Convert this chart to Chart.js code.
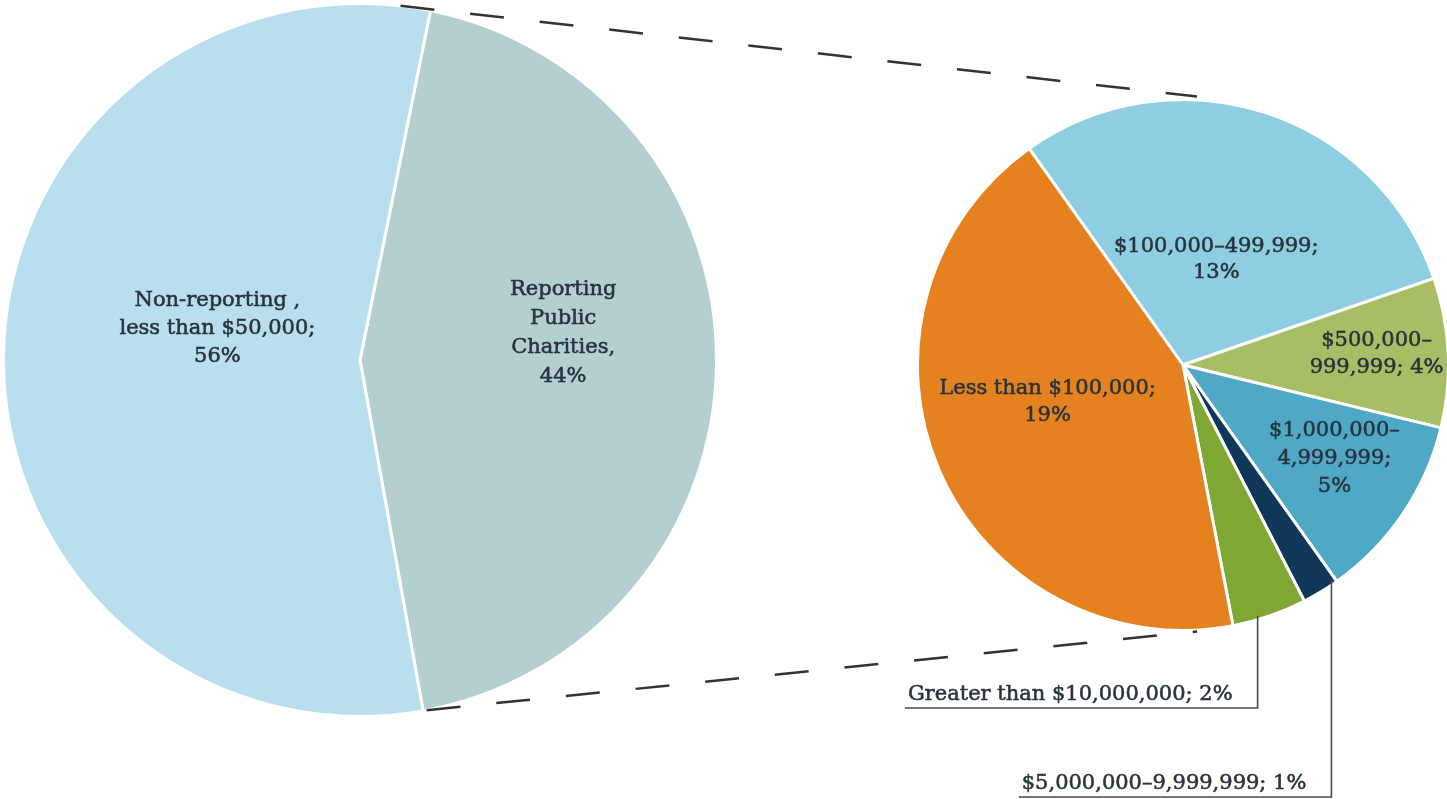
<!DOCTYPE html>
<html><head><meta charset="utf-8">
<script src="https://cdn.jsdelivr.net/npm/chart.js@4.4.0/dist/chart.umd.min.js"></script>
<style>
html,body{margin:0;padding:0;background:#fff;width:1447px;height:799px;overflow:hidden;}
#left{position:absolute;left:2px;top:2px;}
#right{position:absolute;left:916px;top:98px;}
#overlay{position:absolute;left:0;top:0;pointer-events:none;}
</style></head><body>
<canvas id="left" width="716" height="716" style="width:716px;height:716px"></canvas>
<canvas id="right" width="534" height="534" style="width:534px;height:534px"></canvas>
<canvas id="overlay" width="1447" height="799" style="width:1447px;height:799px"></canvas>
<script>
// ---- data ----
const overviewCategories = ['Reporting Public Charities', 'Non-reporting, less than $50,000'];
const overviewValues = [44, 56];
const overviewLabelLines = [['Reporting', 'Public', 'Charities,', '44%'], ['Non-reporting ,', 'less than $50,000;', '56%']];

const breakdownCategories = ['$100,000–499,999', '$500,000–999,999', '$1,000,000–4,999,999', '$5,000,000–9,999,999', 'Greater than $10,000,000', 'Less than $100,000'];
const breakdownValues = [13, 4, 5, 1, 2, 19];
const breakdownLabelLines = [['$100,000–499,999;', '13%'], ['$500,000–', '999,999; 4%'], ['$1,000,000–', '4,999,999;', '5%'], null, null, ['Less than $100,000;', '19%']];
const calloutLabels = [null, null, null, '$5,000,000–9,999,999; 1%', 'Greater than $10,000,000; 2%', null];

// ---- style ----
const FONT = '21px "DejaVu Serif", "Liberation Serif", serif';
const TEXT = '#27343d';
const overviewColors = ['#b3cfd0', '#b9dfef'];
const breakdownColors = ['#8ecde2', '#a8be64', '#4fa8c5', '#0f3858', '#7ea833', '#e5811f'];

function boldText(ctx, s, x, y) {
  ctx.fillText(s, x, y);
  ctx.strokeText(s, x, y);
}

function makeLabelPlugin(cfg) {
  return {
    id: 'sliceLabels',
    afterDatasetsDraw(chart) {
      const ctx = chart.ctx;
      const meta = chart.getDatasetMeta(0);
      ctx.save();
      ctx.font = FONT; ctx.fillStyle = TEXT; ctx.strokeStyle = TEXT; ctx.lineWidth = 0.55;
      ctx.textAlign = 'center'; ctx.textBaseline = 'middle';
      meta.data.forEach((arc, i) => {
        const lines = cfg.lines[i];
        if (!lines) return;
        const mid = (arc.startAngle + arc.endAngle) / 2 + (cfg.angleShift[i] || 0) * Math.PI / 180;
        const d = arc.outerRadius * cfg.radial[i];
        const cx = arc.x + Math.cos(mid) * d;
        const cy = arc.y + Math.sin(mid) * d + (cfg.dy[i] || 0);
        const lh = cfg.lineHeight[i];
        lines.forEach((ln, k) => boldText(ctx, ln, cx, cy + (k - (lines.length - 1) / 2) * lh));
      });
      ctx.restore();
    }
  };
}

const baseOpts = {
  responsive: false, animation: false,
  layout: { padding: 0 },
  plugins: { legend: { display: false }, tooltip: { enabled: false } },
  events: []
};

const leftChart = new Chart(document.getElementById('left'), {
  type: 'pie',
  data: { labels: overviewCategories, datasets: [{ data: overviewValues, backgroundColor: overviewColors, borderColor: '#ffffff', borderWidth: 3, hoverOffset: 0 }] },
  options: Object.assign({}, baseOpts, { rotation: 11.4 }),
  plugins: [makeLabelPlugin({ lines: overviewLabelLines, radial: [0.57, 0.40], dy: [-29, -30], angleShift: [0, 0], lineHeight: [29, 28] })]
});

const rightChart = new Chart(document.getElementById('right'), {
  type: 'pie',
  data: { labels: breakdownCategories, datasets: [{ data: breakdownValues, backgroundColor: breakdownColors, borderColor: '#ffffff', borderWidth: 3, hoverOffset: 0 }] },
  options: Object.assign({}, baseOpts, { rotation: -35.4 }),
  plugins: [makeLabelPlugin({ lines: breakdownLabelLines, radial: [0.41, 0.73, 0.67, 0, 0, 0.54], dy: [-2, -2, 0, 0, 0, -10], angleShift: [0, 0, -2.5, 0, 0, 4], lineHeight: [26, 27, 28, 0, 0, 27] })]
});

// ---- overlay: connector dashes and callouts ----
function drawOverlay() {
  const ov = document.getElementById('overlay');
  const ctx = ov.getContext('2d');
  ctx.clearRect(0, 0, ov.width, ov.height);
  const lRect = { x: 2, y: 2 }, rRect = { x: 916, y: 98 };
  const lArc = leftChart.getDatasetMeta(0).data[0];
  const rArcs = rightChart.getDatasetMeta(0).data;
  const lx = lRect.x + lArc.x, ly = lRect.y + lArc.y, lr = lArc.outerRadius;
  const rx = rRect.x + rArcs[0].x, ry = rRect.y + rArcs[0].y, rr = rArcs[0].outerRadius;

  const topStart = [lx + Math.cos(lArc.startAngle - 0.085) * lr, ly + Math.sin(lArc.startAngle - 0.085) * lr];
  const botStart = [lx + Math.cos(lArc.endAngle - 0.01) * lr, ly + Math.sin(lArc.endAngle - 0.01) * lr];
  ctx.save();
  ctx.strokeStyle = '#333333'; ctx.lineWidth = 2.5; ctx.setLineDash([34, 36]);
  ctx.beginPath(); ctx.moveTo(topStart[0], topStart[1]); ctx.lineTo(rx + 14, ry - rr - 3); ctx.stroke();
  ctx.beginPath(); ctx.moveTo(botStart[0], botStart[1]); ctx.lineTo(rx + 14, ry + rr + 1); ctx.stroke();
  ctx.restore();

  // callouts
  const calloutFrac = { 3: 0.1, 4: 0.65 };
  const calloutBaseY = { 3: 797, 4: 708 };
  ctx.save();
  ctx.font = FONT; ctx.textBaseline = 'alphabetic'; ctx.textAlign = 'left';
  calloutLabels.forEach((txt, i) => {
    if (!txt) return;
    const a = rArcs[i];
    const ang = a.startAngle + (a.endAngle - a.startAngle) * calloutFrac[i];
    const px = rx + Math.cos(ang) * (rr - 4);
    const py = ry + Math.sin(ang) * (rr - 4);
    const by = calloutBaseY[i];
    const w = ctx.measureText(txt).width;
    const x0 = px - w - 28;
    ctx.strokeStyle = '#4a4a4a'; ctx.lineWidth = 1.6;
    ctx.beginPath();
    ctx.moveTo(px, py); ctx.lineTo(px, by); ctx.lineTo(x0, by);
    ctx.stroke();
    ctx.fillStyle = TEXT; ctx.strokeStyle = TEXT; ctx.lineWidth = 0.55;
    boldText(ctx, txt, x0 + 3, by - 8);
  });
  ctx.restore();
}
drawOverlay();
</script>
</body></html>
